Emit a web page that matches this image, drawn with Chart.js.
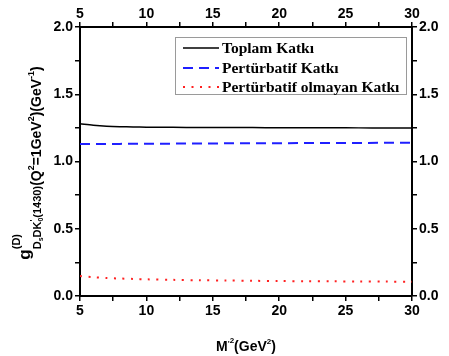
<!DOCTYPE html>
<html>
<head>
<meta charset="utf-8">
<script src="https://cdn.jsdelivr.net/npm/chart.js@4"></script>
<style>
    html, body { margin: 0; padding: 0; background: #fff; }
    #wrap { width: 449px; height: 356px; }
</style>
</head>
<body>
<div id="wrap"><canvas id="chart" width="449" height="356"></canvas></div>
<script>
"use strict";

// M'^2 values (GeV^2)
const massValues = [5, 6, 7, 8, 9, 10, 12, 14, 16, 18, 20, 22, 24, 26, 28, 30];
const totalValues = [1.28, 1.27, 1.263, 1.259, 1.257, 1.255, 1.254, 1.253, 1.252, 1.252, 1.251, 1.251, 1.251, 1.25, 1.25, 1.25];
const perturbativeValues = [1.130, 1.130, 1.131, 1.131, 1.132, 1.132, 1.133, 1.134, 1.135, 1.135, 1.136, 1.137, 1.138, 1.138, 1.139, 1.140];
const nonPerturbativeValues = [0.148, 0.140, 0.134, 0.130, 0.127, 0.124, 0.120, 0.117, 0.115, 0.113, 0.111, 0.110, 0.109, 0.108, 0.107, 0.106];
const seriesLabels = ['Toplam Katkı', 'Pertürbatif Katkı', 'Pertürbatif olmayan Katkı'];

const toPoints = (ys) => massValues.map((x, i) => ({ x: x, y: ys[i] }));

const tickFont = { family: 'Liberation Sans, Arial', size: 14, weight: 'bold' };

function xTicks(value) {
    return value % 5 === 0 ? String(value) : '';
}
function yTicks(value) {
    return Math.abs(value * 2 - Math.round(value * 2)) < 1e-6 ? value.toFixed(1) : '';
}

function axis(position, min, max, step, cb, size, pad) {
    return {
        type: 'linear',
        position: position,
        min: min,
        max: max,
        border: { color: '#000', width: 2 },
        grid: { drawOnChartArea: false, drawTicks: true, tickLength: 5, color: '#000', lineWidth: 1.5 },
        ticks: { stepSize: step, callback: cb, color: '#000', font: tickFont, padding: pad, maxRotation: 0, autoSkip: false },
        afterFit(scale) {
            if (position === 'left' || position === 'right') {
                scale.width = size;
            } else {
                scale.height = size;
            }
        }
    };
}

// draws a line of text made of parts with their own size / baseline shift
function drawRich(ctx, parts, family) {
    let total = 0;
    parts.forEach(p => {
        ctx.font = 'bold ' + p.size + 'px ' + family;
        p.w = ctx.measureText(p.t).width;
        if (!p.stack) total += p.w;
    });
    let x = -total / 2;
    parts.forEach(p => {
        ctx.font = 'bold ' + p.size + 'px ' + family;
        ctx.fillText(p.t, x, p.dy);
        if (!p.stack) x += p.w;
    });
}

const titlesPlugin = {
    id: 'titles',
    afterDraw(chart) {
        const ctx = chart.ctx;
        const area = chart.chartArea;
        ctx.save();
        ctx.fillStyle = '#000';
        ctx.textBaseline = 'alphabetic';
        ctx.textAlign = 'left';

        // x title
        ctx.save();
        ctx.translate((area.left + area.right) / 2, 351);
        drawRich(ctx, [
            { t: 'M', size: 14, dy: 0 },
            { t: '\'', size: 8, dy: -5 },
            { t: '2', size: 8, dy: -8 },
            { t: '(GeV', size: 14, dy: 0 },
            { t: '2', size: 8, dy: -7 },
            { t: ')', size: 14, dy: 0 }
        ], 'Liberation Sans, Arial');
        ctx.restore();

        // y title
        ctx.save();
        ctx.translate(41, 163);
        ctx.rotate(-Math.PI / 2);
        drawRich(ctx, [
            { t: 'g', size: 17, dy: -11 },
            { t: '(D)', size: 11, dy: -21, stack: true },
            { t: 'D', size: 11, dy: 0 },
            { t: 's', size: 7, dy: 2 },
            { t: 'DK', size: 11, dy: 0 },
            { t: '\'', size: 8, dy: -6, stack: true },
            { t: '0', size: 7, dy: 2 },
            { t: '(1430)', size: 11, dy: 0 },
            { t: '(Q', size: 14, dy: 0 },
            { t: '2', size: 9, dy: -7 },
            { t: '=1GeV', size: 14, dy: 0 },
            { t: '2', size: 9, dy: -7 },
            { t: ')(GeV', size: 14, dy: 0 },
            { t: '-1', size: 9, dy: -7 },
            { t: ')', size: 14, dy: 0 }
        ], 'Liberation Sans, Arial');
        ctx.restore();
        ctx.restore();
    }
};

const legendPlugin = {
    id: 'boxLegend',
    afterDraw(chart) {
        const ctx = chart.ctx;
        const box = { left: 175, top: 37, right: 406, bottom: 94 };
        ctx.save();
        ctx.fillStyle = '#fff';
        ctx.fillRect(box.left, box.top, box.right - box.left, box.bottom - box.top);
        ctx.strokeStyle = '#9a9a9a';
        ctx.lineWidth = 1;
        ctx.strokeRect(box.left + 0.5, box.top + 0.5, box.right - box.left, box.bottom - box.top);
        const rows = [48, 68, 87];
        chart.data.datasets.forEach((ds, i) => {
            const y = rows[i];
            ctx.beginPath();
            ctx.strokeStyle = ds.borderColor;
            ctx.lineWidth = ds.borderWidth;
            ctx.setLineDash(ds.borderDash || []);
            ctx.moveTo(183, y);
            ctx.lineTo(219, y);
            ctx.stroke();
            ctx.setLineDash([]);
            ctx.fillStyle = '#000';
            ctx.font = 'bold 15.5px Liberation Serif, Times New Roman';
            ctx.textBaseline = 'middle';
            ctx.fillText(ds.label, 222, y + 1);
        });
        ctx.restore();
    }
};

new Chart(document.querySelector('#chart').getContext('2d'), {
    type: 'line',
    data: {
        datasets: [
            {
                label: seriesLabels[0],
                data: toPoints(totalValues),
                borderColor: '#000000',
                borderWidth: 1.5,
                pointRadius: 0,
                tension: 0.3
            },
            {
                label: seriesLabels[1],
                data: toPoints(perturbativeValues),
                borderColor: '#1f1fff',
                borderWidth: 2,
                borderDash: [10, 6],
                pointRadius: 0
            },
            {
                label: seriesLabels[2],
                data: toPoints(nonPerturbativeValues),
                borderColor: '#ff2020',
                borderWidth: 2,
                borderDash: [2, 6.5],
                pointRadius: 0,
                tension: 0.3
            }
        ]
    },
    options: {
        responsive: false,
        animation: false,
        layout: { padding: 0 },
        plugins: {
            legend: { display: false },
            tooltip: { enabled: false }
        },
        scales: {
            x: axis('bottom', 5, 30, 2.5, xTicks, 60, 2),
            x2: axis('top', 5, 30, 2.5, xTicks, 27, -1),
            y: axis('left', 0, 2, 0.25, yTicks, 80, 2),
            y2: axis('right', 0, 2, 0.25, yTicks, 37, 2)
        }
    },
    plugins: [titlesPlugin, legendPlugin]
});
</script>
</body>
</html>
